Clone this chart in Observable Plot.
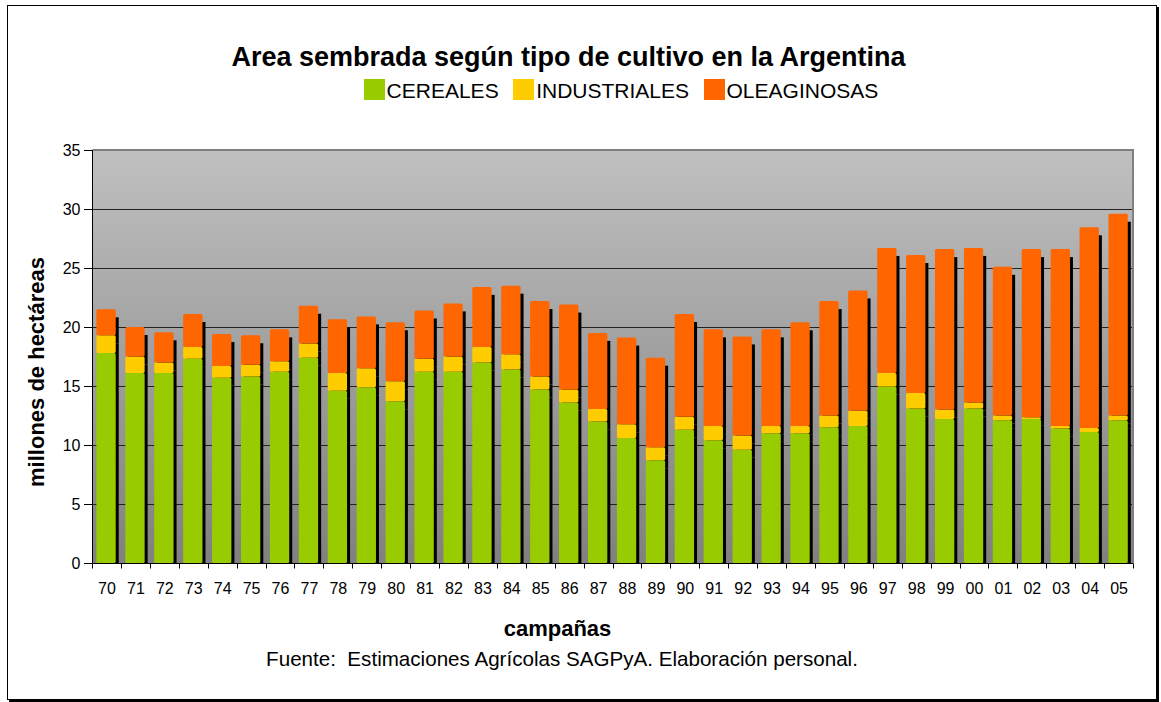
<!DOCTYPE html>
<html><head><meta charset="utf-8">
<script src="https://cdn.jsdelivr.net/npm/d3@7"></script>
<script src="https://cdn.jsdelivr.net/npm/@observablehq/plot@0.6"></script>
<style>
body{margin:0;background:#fff;}
#wrap{position:relative;width:1161px;height:702px;font-family:"Liberation Sans",Arial,sans-serif;color:#000;overflow:hidden}
#border{position:absolute;left:7px;top:5px;width:1148px;height:693px;border:1px solid #000;box-shadow:2px 2px 0 #000}
#chart{position:absolute;left:0;top:0}
.t{position:absolute;white-space:pre}
</style></head><body>
<div id="wrap">
<div id="border"></div>
<div id="chart"></div>
<div class="t" id="title" style="left:0;width:1137px;text-align:center;top:44px;font-size:27px;line-height:27px;font-weight:bold">Area sembrada según tipo de cultivo en la Argentina</div>
<div class="t" id="legend" style="left:363.6px;top:78.6px;display:flex;"></div>
<div class="t" id="ylabel" style="left:37px;top:372px;font-size:22px;line-height:22px;font-weight:bold;transform:translate(-50%,-50%) rotate(-90deg)">millones de hectáreas</div>
<div class="t" id="xlabel" style="left:0;width:1115px;text-align:center;top:618px;font-size:22px;line-height:22px;font-weight:bold">campañas</div>
<div class="t" id="caption" style="left:0;width:1124px;text-align:center;top:648.5px;font-size:20.6px;line-height:20.6px">Fuente:  Estimaciones Agrícolas SAGPyA. Elaboración personal.</div>
</div>
<script>
const campanas = ["70","71","72","73","74","75","76","77","78","79","80","81","82","83","84","85","86","87","88","89","90","91","92","93","94","95","96","97","98","99","00","01","02","03","04","05"];
const tipos = ["CEREALES", "INDUSTRIALES", "OLEAGINOSAS"];
const colores = ["#99cc00", "#ffcc00", "#ff6600"];
const cereales =     [17.8,16.1,16.1,17.3,15.7,15.8,16.2,17.4,14.6,14.9,13.7,16.2,16.2,17.0,16.4,14.7,13.6,12.0,10.6,8.7,11.3,10.4,9.6,11.0,11.0,11.5,11.6,14.95,13.1,12.2,13.1,12.1,12.2,11.4,11.1,12.1];
const industriales = [1.5,1.4,0.9,1.0,1.0,1.0,0.9,1.2,1.5,1.6,1.7,1.1,1.3,1.3,1.3,1.1,1.1,1.05,1.15,1.1,1.1,1.2,1.2,0.6,0.6,1.0,1.3,1.15,1.3,0.8,0.5,0.4,0.15,0.2,0.35,0.4];
const oleaginosas =  [2.2,2.5,2.55,2.8,2.7,2.5,2.7,3.2,4.55,4.4,5.0,4.1,4.5,5.1,5.8,6.4,7.2,6.45,7.35,7.6,8.7,8.2,8.4,8.2,8.8,9.7,10.2,10.6,11.7,13.6,13.1,12.6,14.25,15.0,17.0,17.1];
const yTicks = [0,5,10,15,20,25,30,35];
const yGrid = [5,10,15,20,25,30];

const series = [cereales, industriales, oleaginosas];
const datos = [];
campanas.forEach((c, i) => tipos.forEach((t, j) => datos.push({campana: c, tipo: t, valor: series[j][i]})));

// legend
const leg = document.getElementById("legend");
tipos.forEach((t, j) => {
  const sw = document.createElement("span");
  sw.style.cssText = `display:inline-block;width:21px;height:21px;background:${colores[j]}`;
  const tx = document.createElement("span");
  tx.style.cssText = `font-size:21px;line-height:21px;padding-top:1px;margin-left:2px;margin-right:${j < tipos.length - 1 ? 14.5 : 0}px`;
  tx.textContent = t;
  leg.appendChild(sw); leg.appendChild(tx);
});

function background(index, scales, values, dims) {
  const {width, height, marginLeft, marginRight, marginTop, marginBottom} = dims;
  const g = d3.create("svg:g");
  const grad = g.append("defs").append("linearGradient").attr("id", "fondo")
    .attr("x1", 0).attr("y1", 0).attr("x2", 0).attr("y2", 1);
  grad.append("stop").attr("offset", 0).attr("stop-color", "#c0c0c0");
  grad.append("stop").attr("offset", 1).attr("stop-color", "#808080");
  g.append("rect").attr("x", marginLeft).attr("y", marginTop)
    .attr("width", width - marginLeft - marginRight).attr("height", height - marginTop - marginBottom)
    .attr("fill", "url(#fondo)");
  return g.node();
}

function frameLines(index, scales, values, dims) {
  const {x, y} = scales;
  const {width, marginLeft, marginRight} = dims;
  const g = d3.create("svg:g");
  const x0 = marginLeft + 0.5, x1 = width - marginRight;
  const yTop = y(yTicks[yTicks.length - 1]), yBot = y(0) + 0.5;
  g.append("path").attr("d", `M${x0},${yTop}H${x1}V${yBot}`).attr("fill", "none").attr("stroke", "#808080").attr("stroke-width", 2);
  g.append("path").attr("d", `M${x0},${yTop}V${yBot}H${x1}`).attr("fill", "none").attr("stroke", "#000");
  const bw = typeof x.bandwidth === "function" ? x.bandwidth() : (x1 - x0) / campanas.length;
  const bounds = campanas.map(c => x(c)).concat([x(campanas[campanas.length - 1]) + bw]);
  g.append("path").attr("d", bounds.map(b => `M${Math.round(b) + 0.5},${yBot}v5`).join("")).attr("stroke", "#000");
  return g.node();
}

const chart = Plot.plot({
  width: 1161, height: 702,
  marginLeft: 92, marginRight: 28, marginTop: 150, marginBottom: 139,
  style: {fontFamily: '"Liberation Sans", Arial, sans-serif', fontSize: "16px", background: "transparent", overflow: "visible", color: "#000"},
  x: {type: "band", domain: campanas, padding: 0, label: null},
  y: {domain: [0, 35], label: null},
  color: {domain: tipos, range: colores},
  marks: [
    background,
    Plot.ruleY(yGrid, {stroke: "#222", strokeWidth: 1}),
    Plot.barY(datos, Plot.stackY({x: "campana", y: "valor", z: "tipo", fill: "#000", insetLeft: 4.4, insetRight: 5.2, dx: 3, dy: 8, clip: true})),
    Plot.barY(datos, Plot.stackY({x: "campana", y: "valor", fill: "tipo", insetLeft: 4.4, insetRight: 5.2, rx: 1.5})),
    Plot.axisY({ticks: yTicks, tickSize: 8, tickPadding: 4, fontSize: 16, label: null}),
    Plot.axisX({tickSize: 0, tickPadding: 19, fontSize: 16, label: null}),
    frameLines
  ]
});
document.getElementById("chart").appendChild(chart);
</script>
</body></html>
